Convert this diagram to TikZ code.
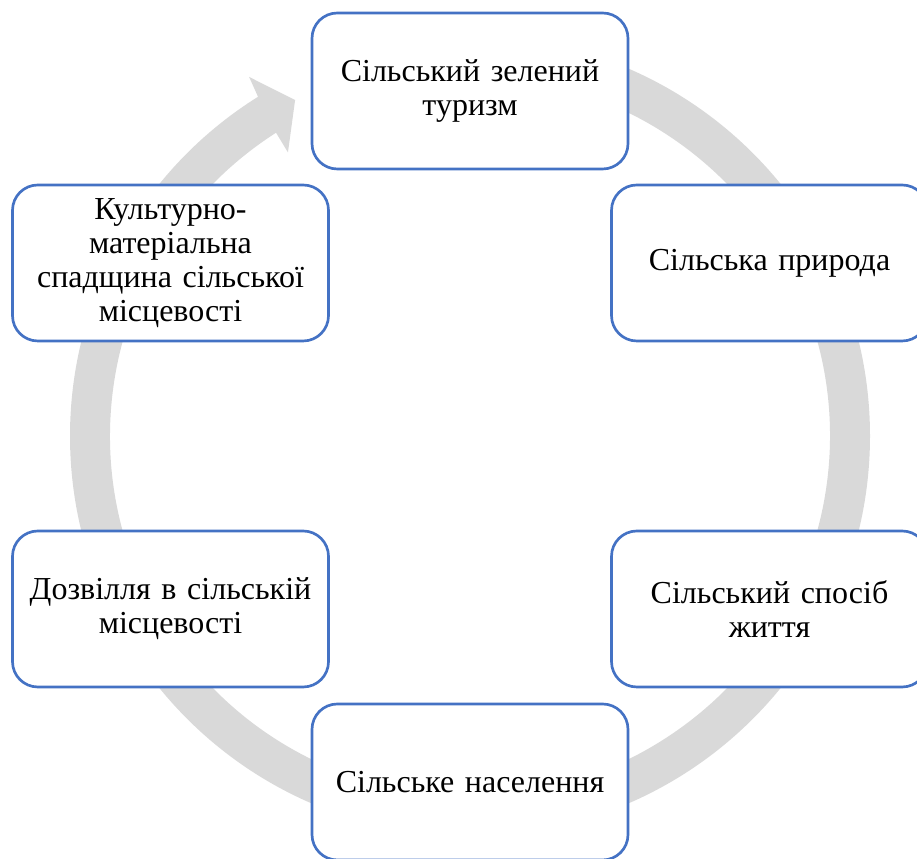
\documentclass[tikz,border=0pt]{standalone}
\usepackage{fontspec}
\setmainfont{Liberation Serif}
\definecolor{boxblue}{HTML}{4472C4}
\definecolor{ringgrey}{HTML}{D9D9D9}
\begin{document}
\begin{tikzpicture}[x=0.75pt,y=0.75pt,
  cyclebox/.style={draw=boxblue, line width=2pt, fill=white, rounded corners=19pt,
    minimum width=237pt, minimum height=117pt, align=center, inner sep=0pt,
    text width=215pt, font=\fontsize{24}{25.5}\selectfont}]
\useasboundingbox (0,0) rectangle (917,859);
\clip (0,0) rectangle (917,859);
\begin{scope}[shift={(470,423)}]
\fill[ringgrey] (90:400) arc[start angle=90,end angle=-238,radius=400]
  -- (121.6:421.6) -- (117.5:378.8) -- (122.7:337) -- (122.6:360)
  arc[start angle=-237.4,end angle=90,radius=360] -- cycle;
\end{scope}
\node[cyclebox] (n1) at (470,768) {Сільський зелений\\туризм};
\node[cyclebox] (n2) at (769.5,596) {Сільська природа};
\node[cyclebox] (n3) at (769.5,250) {Сільський спосіб\\життя};
\node[cyclebox] (n4) at (470,77) {Сільське населення};
\node[cyclebox] (n5) at (170.5,250) {Дозвілля в сільській\\місцевості};
\node[cyclebox] (n6) at (170.5,596) {Культурно-\\матеріальна\\спадщина сільської\\місцевості};
\end{tikzpicture}
\end{document}
